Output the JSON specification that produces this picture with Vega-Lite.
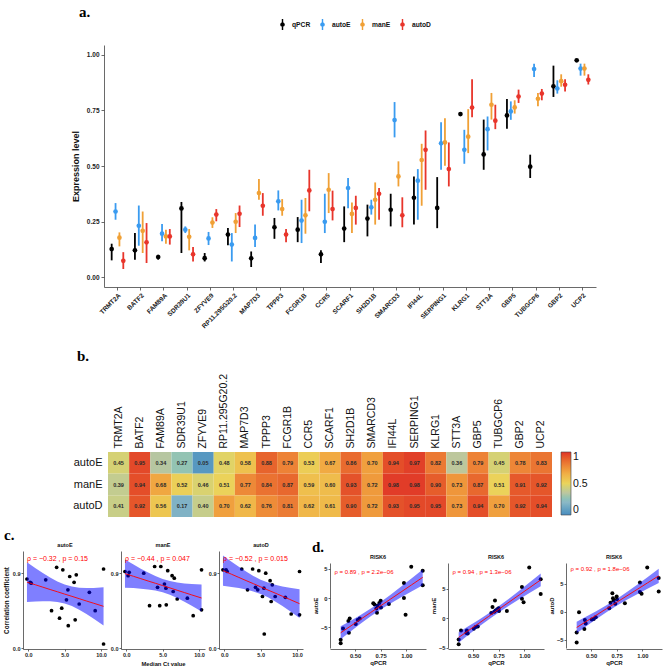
{
  "$schema": "https://vega.github.io/schema/vega-lite/v6.json",
  "padding": {"left": 3, "top": 5, "right": 2, "bottom": 2},
  "config": {
    "view": {"stroke": null},
    "font": "Liberation Sans",
    "axis": {"grid": false, "domainColor": "#444", "tickColor": "#444", "domainWidth": 0.8, "tickWidth": 0.8, "labelColor": "#222", "labelFontWeight": "bold", "titleFontWeight": "bold", "titleColor": "#111"},
    "title": {"font": "Liberation Sans", "fontWeight": "bold", "color": "#111"},
    "legend": {"padding": 0}
  },
  "datasets": {
    "expr": [
      {"gene":"TRMT2A","method":"qPCR","value":0.126,"lo":0.075,"hi":0.150},
      {"gene":"TRMT2A","method":"autoE","value":0.295,"lo":0.258,"hi":0.333},
      {"gene":"TRMT2A","method":"manE","value":0.177,"lo":0.138,"hi":0.201},
      {"gene":"TRMT2A","method":"autoD","value":0.073,"lo":0.036,"hi":0.112},
      {"gene":"BATF2","method":"qPCR","value":0.120,"lo":0.078,"hi":0.198},
      {"gene":"BATF2","method":"autoE","value":0.231,"lo":0.141,"hi":0.322},
      {"gene":"BATF2","method":"manE","value":0.208,"lo":0.108,"hi":0.295},
      {"gene":"BATF2","method":"autoD","value":0.156,"lo":0.063,"hi":0.243},
      {"gene":"FAM89A","method":"qPCR","value":0.090,"lo":0.078,"hi":0.100},
      {"gene":"FAM89A","method":"autoE","value":0.195,"lo":0.161,"hi":0.239},
      {"gene":"FAM89A","method":"manE","value":0.183,"lo":0.150,"hi":0.213},
      {"gene":"FAM89A","method":"autoD","value":0.183,"lo":0.146,"hi":0.216},
      {"gene":"SDR39U1","method":"qPCR","value":0.309,"lo":0.108,"hi":0.338},
      {"gene":"SDR39U1","method":"autoE","value":0.213,"lo":0.198,"hi":0.228},
      {"gene":"SDR39U1","method":"manE","value":0.181,"lo":0.120,"hi":0.216},
      {"gene":"SDR39U1","method":"autoD","value":0.102,"lo":0.070,"hi":0.135},
      {"gene":"ZFYVE9","method":"qPCR","value":0.085,"lo":0.070,"hi":0.108},
      {"gene":"ZFYVE9","method":"autoE","value":0.174,"lo":0.144,"hi":0.203},
      {"gene":"ZFYVE9","method":"manE","value":0.245,"lo":0.221,"hi":0.269},
      {"gene":"ZFYVE9","method":"autoD","value":0.281,"lo":0.251,"hi":0.306},
      {"gene":"RP11.295G20.2","method":"qPCR","value":0.191,"lo":0.143,"hi":0.221},
      {"gene":"RP11.295G20.2","method":"autoE","value":0.146,"lo":0.070,"hi":0.198},
      {"gene":"RP11.295G20.2","method":"manE","value":0.249,"lo":0.198,"hi":0.288},
      {"gene":"RP11.295G20.2","method":"autoD","value":0.285,"lo":0.225,"hi":0.322},
      {"gene":"MAP7D3","method":"qPCR","value":0.084,"lo":0.045,"hi":0.115},
      {"gene":"MAP7D3","method":"autoE","value":0.176,"lo":0.135,"hi":0.236},
      {"gene":"MAP7D3","method":"manE","value":0.378,"lo":0.348,"hi":0.441},
      {"gene":"MAP7D3","method":"autoD","value":0.321,"lo":0.276,"hi":0.378},
      {"gene":"TPPP3","method":"qPCR","value":0.224,"lo":0.172,"hi":0.266},
      {"gene":"TPPP3","method":"autoE","value":0.341,"lo":0.300,"hi":0.390},
      {"gene":"TPPP3","method":"manE","value":0.306,"lo":0.276,"hi":0.351},
      {"gene":"TPPP3","method":"autoD","value":0.191,"lo":0.157,"hi":0.216},
      {"gene":"FCGR1B","method":"qPCR","value":0.213,"lo":0.157,"hi":0.270},
      {"gene":"FCGR1B","method":"autoE","value":0.254,"lo":0.153,"hi":0.348},
      {"gene":"FCGR1B","method":"manE","value":0.278,"lo":0.195,"hi":0.356},
      {"gene":"FCGR1B","method":"autoD","value":0.390,"lo":0.296,"hi":0.483},
      {"gene":"CCR5","method":"qPCR","value":0.102,"lo":0.063,"hi":0.120},
      {"gene":"CCR5","method":"autoE","value":0.249,"lo":0.198,"hi":0.375},
      {"gene":"CCR5","method":"manE","value":0.393,"lo":0.288,"hi":0.468},
      {"gene":"CCR5","method":"autoD","value":0.306,"lo":0.255,"hi":0.389},
      {"gene":"SCARF1","method":"qPCR","value":0.218,"lo":0.157,"hi":0.318},
      {"gene":"SCARF1","method":"autoE","value":0.401,"lo":0.310,"hi":0.446},
      {"gene":"SCARF1","method":"manE","value":0.284,"lo":0.198,"hi":0.336},
      {"gene":"SCARF1","method":"autoD","value":0.311,"lo":0.236,"hi":0.366},
      {"gene":"SH2D1B","method":"qPCR","value":0.263,"lo":0.183,"hi":0.326},
      {"gene":"SH2D1B","method":"autoE","value":0.314,"lo":0.281,"hi":0.348},
      {"gene":"SH2D1B","method":"manE","value":0.348,"lo":0.236,"hi":0.426},
      {"gene":"SH2D1B","method":"autoD","value":0.375,"lo":0.258,"hi":0.401},
      {"gene":"SMARCD3","method":"qPCR","value":0.303,"lo":0.228,"hi":0.375},
      {"gene":"SMARCD3","method":"autoE","value":0.707,"lo":0.629,"hi":0.788},
      {"gene":"SMARCD3","method":"manE","value":0.453,"lo":0.408,"hi":0.521},
      {"gene":"SMARCD3","method":"autoD","value":0.278,"lo":0.224,"hi":0.359},
      {"gene":"IFI44L","method":"qPCR","value":0.357,"lo":0.236,"hi":0.453},
      {"gene":"IFI44L","method":"autoE","value":0.434,"lo":0.258,"hi":0.486},
      {"gene":"IFI44L","method":"manE","value":0.527,"lo":0.321,"hi":0.600},
      {"gene":"IFI44L","method":"autoD","value":0.573,"lo":0.393,"hi":0.660},
      {"gene":"SERPING1","method":"qPCR","value":0.311,"lo":0.220,"hi":0.450},
      {"gene":"SERPING1","method":"autoE","value":0.602,"lo":0.483,"hi":0.697},
      {"gene":"SERPING1","method":"manE","value":0.606,"lo":0.501,"hi":0.715},
      {"gene":"SERPING1","method":"autoD","value":0.486,"lo":0.408,"hi":0.606},
      {"gene":"KLRG1","method":"qPCR","value":0.734,"lo":0.729,"hi":0.739},
      {"gene":"KLRG1","method":"autoE","value":0.573,"lo":0.510,"hi":0.663},
      {"gene":"KLRG1","method":"manE","value":0.632,"lo":0.558,"hi":0.756},
      {"gene":"KLRG1","method":"autoD","value":0.763,"lo":0.720,"hi":0.891},
      {"gene":"STT3A","method":"qPCR","value":0.552,"lo":0.483,"hi":0.709},
      {"gene":"STT3A","method":"autoE","value":0.666,"lo":0.570,"hi":0.723},
      {"gene":"STT3A","method":"manE","value":0.776,"lo":0.709,"hi":0.829},
      {"gene":"STT3A","method":"autoD","value":0.704,"lo":0.666,"hi":0.776},
      {"gene":"GBP5","method":"qPCR","value":0.728,"lo":0.668,"hi":0.802},
      {"gene":"GBP5","method":"autoE","value":0.746,"lo":0.708,"hi":0.791},
      {"gene":"GBP5","method":"manE","value":0.764,"lo":0.736,"hi":0.796},
      {"gene":"GBP5","method":"autoD","value":0.813,"lo":0.784,"hi":0.844},
      {"gene":"TUBGCP6","method":"qPCR","value":0.497,"lo":0.446,"hi":0.551},
      {"gene":"TUBGCP6","method":"autoE","value":0.937,"lo":0.901,"hi":0.961},
      {"gene":"TUBGCP6","method":"manE","value":0.803,"lo":0.769,"hi":0.829},
      {"gene":"TUBGCP6","method":"autoD","value":0.826,"lo":0.796,"hi":0.847},
      {"gene":"GBP2","method":"qPCR","value":0.859,"lo":0.811,"hi":0.952},
      {"gene":"GBP2","method":"autoE","value":0.849,"lo":0.826,"hi":0.886},
      {"gene":"GBP2","method":"manE","value":0.882,"lo":0.857,"hi":0.913},
      {"gene":"GBP2","method":"autoD","value":0.866,"lo":0.836,"hi":0.891},
      {"gene":"UCP2","method":"qPCR","value":0.976,"lo":0.971,"hi":0.981},
      {"gene":"UCP2","method":"autoE","value":0.939,"lo":0.907,"hi":0.961},
      {"gene":"UCP2","method":"manE","value":0.939,"lo":0.907,"hi":0.961},
      {"gene":"UCP2","method":"autoD","value":0.888,"lo":0.867,"hi":0.913}
    ],
    "cor": [
      {"gene":"TRMT2A","ct":9.2,"method":"autoE","rho":0.45},{"gene":"TRMT2A","ct":9.2,"method":"manE","rho":0.39},{"gene":"TRMT2A","ct":9.2,"method":"autoD","rho":0.41},
      {"gene":"BATF2","ct":10.35,"method":"autoE","rho":0.95},{"gene":"BATF2","ct":10.35,"method":"manE","rho":0.94},{"gene":"BATF2","ct":10.35,"method":"autoD","rho":0.92},
      {"gene":"FAM89A","ct":6.45,"method":"autoE","rho":0.34},{"gene":"FAM89A","ct":6.45,"method":"manE","rho":0.68},{"gene":"FAM89A","ct":6.45,"method":"autoD","rho":0.56},
      {"gene":"SDR39U1","ct":5.5,"method":"autoE","rho":0.27},{"gene":"SDR39U1","ct":5.5,"method":"manE","rho":0.52},{"gene":"SDR39U1","ct":5.5,"method":"autoD","rho":0.17},
      {"gene":"ZFYVE9","ct":10.35,"method":"autoE","rho":0.05},{"gene":"ZFYVE9","ct":10.35,"method":"manE","rho":0.46},{"gene":"ZFYVE9","ct":10.35,"method":"autoD","rho":0.40},
      {"gene":"RP11.295G20.2","ct":4.6,"method":"autoE","rho":0.48},{"gene":"RP11.295G20.2","ct":4.6,"method":"manE","rho":0.51},{"gene":"RP11.295G20.2","ct":4.6,"method":"autoD","rho":0.70},
      {"gene":"MAP7D3","ct":5.25,"method":"autoE","rho":0.58},{"gene":"MAP7D3","ct":5.25,"method":"manE","rho":0.77},{"gene":"MAP7D3","ct":5.25,"method":"autoD","rho":0.62},
      {"gene":"TPPP3","ct":6.6,"method":"autoE","rho":0.88},{"gene":"TPPP3","ct":6.6,"method":"manE","rho":0.84},{"gene":"TPPP3","ct":6.6,"method":"autoD","rho":0.76},
      {"gene":"FCGR1B","ct":6.3,"method":"autoE","rho":0.79},{"gene":"FCGR1B","ct":6.3,"method":"manE","rho":0.87},{"gene":"FCGR1B","ct":6.3,"method":"autoD","rho":0.81},
      {"gene":"CCR5","ct":7.0,"method":"autoE","rho":0.53},{"gene":"CCR5","ct":7.0,"method":"manE","rho":0.59},{"gene":"CCR5","ct":7.0,"method":"autoD","rho":0.62},
      {"gene":"SCARF1","ct":8.4,"method":"autoE","rho":0.67},{"gene":"SCARF1","ct":8.4,"method":"manE","rho":0.60},{"gene":"SCARF1","ct":8.4,"method":"autoD","rho":0.61},
      {"gene":"SH2D1B","ct":5.7,"method":"autoE","rho":0.86},{"gene":"SH2D1B","ct":5.7,"method":"manE","rho":0.93},{"gene":"SH2D1B","ct":5.7,"method":"autoD","rho":0.90},
      {"gene":"SMARCD3","ct":5.45,"method":"autoE","rho":0.70},{"gene":"SMARCD3","ct":5.45,"method":"manE","rho":0.72},{"gene":"SMARCD3","ct":5.45,"method":"autoD","rho":0.72},
      {"gene":"IFI44L","ct":4.75,"method":"autoE","rho":0.94},{"gene":"IFI44L","ct":4.75,"method":"manE","rho":0.98},{"gene":"IFI44L","ct":4.75,"method":"autoD","rho":0.93},
      {"gene":"SERPING1","ct":3.9,"method":"autoE","rho":0.97},{"gene":"SERPING1","ct":3.9,"method":"manE","rho":0.98},{"gene":"SERPING1","ct":3.9,"method":"autoD","rho":0.95},
      {"gene":"KLRG1","ct":2.4,"method":"autoE","rho":0.82},{"gene":"KLRG1","ct":2.4,"method":"manE","rho":0.90},{"gene":"KLRG1","ct":2.4,"method":"autoD","rho":0.95},
      {"gene":"STT3A","ct":4.3,"method":"autoE","rho":0.36},{"gene":"STT3A","ct":4.3,"method":"manE","rho":0.73},{"gene":"STT3A","ct":4.3,"method":"autoD","rho":0.73},
      {"gene":"GBP5","ct":0.25,"method":"autoE","rho":0.79},{"gene":"GBP5","ct":0.25,"method":"manE","rho":0.87},{"gene":"GBP5","ct":0.25,"method":"autoD","rho":0.94},
      {"gene":"TUBGCP6","ct":3.2,"method":"autoE","rho":0.45},{"gene":"TUBGCP6","ct":3.2,"method":"manE","rho":0.51},{"gene":"TUBGCP6","ct":3.2,"method":"autoD","rho":0.70},
      {"gene":"GBP2","ct":0.4,"method":"autoE","rho":0.78},{"gene":"GBP2","ct":0.4,"method":"manE","rho":0.91},{"gene":"GBP2","ct":0.4,"method":"autoD","rho":0.92},
      {"gene":"UCP2","ct":-0.18,"method":"autoE","rho":0.83},{"gene":"UCP2","ct":-0.18,"method":"manE","rho":0.92},{"gene":"UCP2","ct":-0.18,"method":"autoD","rho":0.94}
    ],
    "cfit": [
      {"method":"autoE","ct":-0.18,"fit":0.792,"lo":0.553,"hi":1.031},
      {"method":"autoE","ct":1,"fit":0.760,"lo":0.560,"hi":0.960},
      {"method":"autoE","ct":2,"fit":0.732,"lo":0.563,"hi":0.901},
      {"method":"autoE","ct":3,"fit":0.704,"lo":0.562,"hi":0.847},
      {"method":"autoE","ct":4,"fit":0.677,"lo":0.554,"hi":0.800},
      {"method":"autoE","ct":5,"fit":0.649,"lo":0.536,"hi":0.763},
      {"method":"autoE","ct":6,"fit":0.622,"lo":0.505,"hi":0.739},
      {"method":"autoE","ct":7,"fit":0.594,"lo":0.462,"hi":0.726},
      {"method":"autoE","ct":8,"fit":0.566,"lo":0.411,"hi":0.722},
      {"method":"autoE","ct":9,"fit":0.539,"lo":0.354,"hi":0.723},
      {"method":"autoE","ct":10.35,"fit":0.502,"lo":0.273,"hi":0.730},
      {"method":"manE","ct":-0.18,"fit":0.895,"lo":0.726,"hi":1.064},
      {"method":"manE","ct":1,"fit":0.862,"lo":0.721,"hi":1.004},
      {"method":"manE","ct":2,"fit":0.834,"lo":0.714,"hi":0.954},
      {"method":"manE","ct":3,"fit":0.806,"lo":0.705,"hi":0.908},
      {"method":"manE","ct":4,"fit":0.779,"lo":0.691,"hi":0.866},
      {"method":"manE","ct":5,"fit":0.751,"lo":0.670,"hi":0.831},
      {"method":"manE","ct":6,"fit":0.723,"lo":0.640,"hi":0.806},
      {"method":"manE","ct":7,"fit":0.695,"lo":0.601,"hi":0.788},
      {"method":"manE","ct":8,"fit":0.667,"lo":0.557,"hi":0.777},
      {"method":"manE","ct":9,"fit":0.639,"lo":0.509,"hi":0.770},
      {"method":"manE","ct":10.35,"fit":0.602,"lo":0.440,"hi":0.763},
      {"method":"autoD","ct":-0.18,"fit":0.931,"lo":0.750,"hi":1.113},
      {"method":"autoD","ct":1,"fit":0.887,"lo":0.735,"hi":1.038},
      {"method":"autoD","ct":2,"fit":0.849,"lo":0.721,"hi":0.978},
      {"method":"autoD","ct":3,"fit":0.811,"lo":0.703,"hi":0.920},
      {"method":"autoD","ct":4,"fit":0.774,"lo":0.680,"hi":0.867},
      {"method":"autoD","ct":5,"fit":0.736,"lo":0.650,"hi":0.822},
      {"method":"autoD","ct":6,"fit":0.698,"lo":0.610,"hi":0.787},
      {"method":"autoD","ct":7,"fit":0.661,"lo":0.560,"hi":0.761},
      {"method":"autoD","ct":8,"fit":0.623,"lo":0.505,"hi":0.741},
      {"method":"autoD","ct":9,"fit":0.585,"lo":0.445,"hi":0.725},
      {"method":"autoD","ct":10.35,"fit":0.534,"lo":0.361,"hi":0.707}
    ],
    "risk": [
      {"qpcr":0.36,"autoE":-7.1,"manE":-3.6,"autoD":-5.5},
      {"qpcr":0.36,"autoE":-7.7,"manE":-4.4,"autoD":-3.75},
      {"qpcr":0.383,"autoE":-5.2,"manE":-2.1,"autoD":-0.1},
      {"qpcr":0.435,"autoE":-3.9,"manE":-2.5,"autoD":-3.1},
      {"qpcr":0.44,"autoE":-5.9,"manE":-2.1,"autoD":-1.5},
      {"qpcr":0.448,"autoE":-3.5,"manE":-2.6,"autoD":-2.1},
      {"qpcr":0.507,"autoE":-4.4,"manE":-1.8,"autoD":-1.4},
      {"qpcr":0.526,"autoE":-3.75,"manE":-1.5,"autoD":-1.3},
      {"qpcr":0.546,"autoE":-3.5,"manE":-1.4,"autoD":-1.0},
      {"qpcr":0.678,"autoE":-0.9,"manE":0.9,"autoD":0.6},
      {"qpcr":0.69,"autoE":-1.1,"manE":1.9,"autoD":1.6},
      {"qpcr":0.708,"autoE":-1.8,"manE":1.1,"autoD":3.3},
      {"qpcr":0.714,"autoE":-2.5,"manE":3.0,"autoD":2.4},
      {"qpcr":0.72,"autoE":-1.3,"manE":1.3,"autoD":2.0},
      {"qpcr":0.737,"autoE":-0.85,"manE":1.5,"autoD":1.4},
      {"qpcr":0.75,"autoE":-0.45,"manE":1.7,"autoD":2.7},
      {"qpcr":0.753,"autoE":-1.6,"manE":1.2,"autoD":2.2},
      {"qpcr":0.83,"autoE":-1.0,"manE":1.2,"autoD":1.5},
      {"qpcr":0.977,"autoE":2.55,"manE":5.3,"autoD":5.2},
      {"qpcr":0.977,"autoE":0.0,"manE":3.3,"autoD":3.5},
      {"qpcr":0.993,"autoE":-2.85,"manE":2.7,"autoD":3.2},
      {"qpcr":1.048,"autoE":5.3,"manE":8.6,"autoD":7.9},
      {"qpcr":1.16,"autoE":4.65,"manE":6.6,"autoD":6.0},
      {"qpcr":1.16,"autoE":2.15,"manE":4.1,"autoD":3.6}
    ],
    "rfit": [
      {"method":"autoE","qpcr":0.36,"fit":-5.912,"lo":-7.006,"hi":-4.818},
      {"method":"autoE","qpcr":0.45,"fit":-4.852,"lo":-5.766,"hi":-3.938},
      {"method":"autoE","qpcr":0.55,"fit":-3.674,"lo":-4.423,"hi":-2.925},
      {"method":"autoE","qpcr":0.65,"fit":-2.496,"lo":-3.145,"hi":-1.847},
      {"method":"autoE","qpcr":0.75,"fit":-1.318,"lo":-1.963,"hi":-0.673},
      {"method":"autoE","qpcr":0.85,"fit":-0.140,"lo":-0.878,"hi":0.598},
      {"method":"autoE","qpcr":0.95,"fit":1.038,"lo":0.139,"hi":1.937},
      {"method":"autoE","qpcr":1.05,"fit":2.216,"lo":1.117,"hi":3.315},
      {"method":"autoE","qpcr":1.16,"fit":3.512,"lo":2.170,"hi":4.854},
      {"method":"manE","qpcr":0.36,"fit":-3.260,"lo":-4.149,"hi":-2.371},
      {"method":"manE","qpcr":0.45,"fit":-2.163,"lo":-2.906,"hi":-1.420},
      {"method":"manE","qpcr":0.55,"fit":-0.944,"lo":-1.553,"hi":-0.335},
      {"method":"manE","qpcr":0.65,"fit":0.275,"lo":-0.253,"hi":0.803},
      {"method":"manE","qpcr":0.75,"fit":1.494,"lo":0.970,"hi":2.018},
      {"method":"manE","qpcr":0.85,"fit":2.713,"lo":2.113,"hi":3.313},
      {"method":"manE","qpcr":0.95,"fit":3.932,"lo":3.201,"hi":4.663},
      {"method":"manE","qpcr":1.05,"fit":5.151,"lo":4.258,"hi":6.044},
      {"method":"manE","qpcr":1.16,"fit":6.492,"lo":5.401,"hi":7.583},
      {"method":"autoD","qpcr":0.36,"fit":-2.830,"lo":-3.863,"hi":-1.797},
      {"method":"autoD","qpcr":0.45,"fit":-1.791,"lo":-2.654,"hi":-0.928},
      {"method":"autoD","qpcr":0.55,"fit":-0.637,"lo":-1.344,"hi":0.070},
      {"method":"autoD","qpcr":0.65,"fit":0.517,"lo":-0.096,"hi":1.130},
      {"method":"autoD","qpcr":0.75,"fit":1.671,"lo":1.062,"hi":2.280},
      {"method":"autoD","qpcr":0.85,"fit":2.825,"lo":2.128,"hi":3.522},
      {"method":"autoD","qpcr":0.95,"fit":3.979,"lo":3.130,"hi":4.828},
      {"method":"autoD","qpcr":1.05,"fit":5.133,"lo":4.096,"hi":6.170},
      {"method":"autoD","qpcr":1.16,"fit":6.402,"lo":5.135,"hi":7.669}
    ]
  },
  "spacing": 19,
  "vconcat": [
    {
      "hconcat": [
        {"width": 67, "height": 10, "data": {"values": []}, "mark": "point"},
        {
          "width": 492, "height": 242,
          "data": {"name": "expr"},
          "title": {"text": "a.", "anchor": "start", "frame": "group", "dx": -25, "offset": 25, "font": "Liberation Serif", "fontSize": 15, "fontWeight": "bold", "color": "#000"},
          "encoding": {
            "x": {"field": "gene", "type": "nominal",
              "sort": ["TRMT2A","BATF2","FAM89A","SDR39U1","ZFYVE9","RP11.295G20.2","MAP7D3","TPPP3","FCGR1B","CCR5","SCARF1","SH2D1B","SMARCD3","IFI44L","SERPING1","KLRG1","STT3A","GBP5","TUBGCP6","GBP2","UCP2"],
              "scale": {"paddingInner": 0, "paddingOuter": 0.08},
              "axis": {"title": null, "labelAngle": -45, "labelFontSize": 6.5, "labelPadding": 2, "tickSize": 3}},
            "xOffset": {"field": "method", "type": "nominal", "sort": ["qPCR","autoE","manE","autoD"],
              "scale": {"paddingInner": 0, "paddingOuter": 1.875}}
          },
          "layer": [
            {
              "mark": {"type": "rule", "strokeWidth": 1.8},
              "encoding": {
                "y": {"field": "lo", "type": "quantitative", "title": "Expression level",
                  "scale": {"domain": [-0.045, 1.045], "nice": false, "zero": false},
                  "axis": {"values": [0, 0.25, 0.5, 0.75, 1], "format": ".2f", "labelFontSize": 6.5, "titleFontSize": 9, "tickSize": 3, "titlePadding": 6}},
                "y2": {"field": "hi"},
                "stroke": {"field": "method", "type": "nominal", "legend": null,
                  "scale": {"domain": ["qPCR","autoE","manE","autoD"], "range": ["#000000","#3A9BF0","#F0A035","#E8352B"]}}
              }
            },
            {
              "mark": {"type": "point", "filled": true, "size": 22, "opacity": 1},
              "encoding": {
                "y": {"field": "value", "type": "quantitative", "title": "Expression level"},
                "color": {"field": "method", "type": "nominal",
                  "scale": {"domain": ["qPCR","autoE","manE","autoD"], "range": ["#000000","#3A9BF0","#F0A035","#E8352B"]},
                  "legend": {"orient": "none", "legendX": 255, "legendY": -26, "direction": "horizontal", "title": null,
                    "symbolType": "M-0.13,-1H0.13V1H-0.13Z M0.42,0A0.42,0.42,0,1,1,-0.42,0A0.42,0.42,0,1,1,0.42,0Z",
                    "symbolSize": 120, "symbolStrokeWidth": 0, "labelFontSize": 6.7, "labelFontWeight": "bold", "labelColor": "#111", "labelOffset": 4, "columnPadding": 6}}
              }
            }
          ]
        }
      ],
      "spacing": 15,
      "bounds": "flush"
    },
    {
      "spacing": 11,
      "vconcat": [
        {
          "hconcat": [
            {"width": 71, "height": 10, "data": {"values": []}, "mark": "point"},
            {
              "width": 444, "height": 65,
              "data": {"name": "cor"},
              "title": {"text": "b.", "anchor": "start", "frame": "group", "dx": -31, "offset": 9, "font": "Liberation Serif", "fontSize": 15, "fontWeight": "bold", "color": "#000"},
              "encoding": {
                "x": {"field": "gene", "type": "nominal",
                  "sort": ["TRMT2A","BATF2","FAM89A","SDR39U1","ZFYVE9","RP11.295G20.2","MAP7D3","TPPP3","FCGR1B","CCR5","SCARF1","SH2D1B","SMARCD3","IFI44L","SERPING1","KLRG1","STT3A","GBP5","TUBGCP6","GBP2","UCP2"],
                  "scale": {"paddingInner": 0, "paddingOuter": 0},
                  "axis": {"orient": "top", "title": null, "labelAngle": -90, "labelFontSize": 10.5, "labelFontWeight": "normal", "labelColor": "#111", "ticks": false, "domain": false, "labelPadding": 4}},
                "y": {"field": "method", "type": "nominal", "sort": ["autoE","manE","autoD"],
                  "scale": {"paddingInner": 0, "paddingOuter": 0},
                  "axis": {"title": null, "ticks": false, "domain": false, "labelFontSize": 11, "labelFontWeight": "normal", "labelColor": "#111", "labelPadding": 6}}
              },
              "layer": [
                {
                  "mark": {"type": "rect"},
                  "encoding": {
                    "color": {"field": "rho", "type": "quantitative",
                      "scale": {"domain": [0, 0.2, 0.35, 0.5, 0.65, 0.8, 1], "range": ["#4A8CC0", "#8BB8C6", "#BCC6A0", "#EAD45C", "#F1B046", "#EC7F36", "#DF3128"]},
                      "legend": {"orient": "none", "legendX": 539, "legendY": 0, "direction": "vertical", "title": null, "values": [0, 0.5, 1], "format": "~g", "gradientLength": 63, "gradientThickness": 10, "labelFontSize": 10.5, "labelColor": "#111", "gradientStrokeColor": "#444", "gradientStrokeWidth": 0.6}}
                  }
                },
                {
                  "mark": {"type": "text", "fontSize": 5.5, "fontWeight": "bold", "color": "#2a2a2a"},
                  "encoding": {"text": {"field": "rho", "type": "quantitative", "format": ".2f"}}
                }
              ]
            }
          ],
          "spacing": 15,
          "bounds": "flush"
        },
        {
          "spacing": 0,
          "bounds": "flush",
          "hconcat": [
            {"width": 1, "height": 98, "data": {"values": []}, "mark": "point",
              "title": {"text": "c.", "anchor": "start", "frame": "group", "dx": -18, "offset": 8, "font": "Liberation Serif", "fontSize": 15, "fontWeight": "bold", "color": "#000"}},
            {
              "width": 84, "height": 98,
              "title": {"text": "autoE", "fontSize": 5.5, "offset": 3},
              "layer": [
                {
                  "data": {"name": "cor"},
                  "transform": [{"filter": "datum.method === 'autoE'"}],
                  "mark": {"type": "circle", "size": 14, "color": "#000", "opacity": 1},
                  "encoding": {
                    "x": {"field": "ct", "type": "quantitative", "title": null, "scale": {"domain": [-0.725, 10.825], "nice": false, "zero": false}, "axis": {"values": [0, 2.5, 5, 7.5, 10], "format": ".1f", "labelFontSize": 5.5, "tickSize": 2, "labelPadding": 1}},
                    "y": {"field": "rho", "type": "quantitative", "title": "Correlation coefficient", "scale": {"domain": [-0.01, 1.166], "nice": false, "zero": false}, "axis": {"values": [0, 0.3, 0.6, 0.9], "format": ".1f", "labelFontSize": 5.5, "tickSize": 2, "labelPadding": 1, "titleFontSize": 6.3, "titlePadding": 3}}
                  }
                },
                {
                  "data": {"name": "cfit"},
                  "transform": [{"filter": "datum.method === 'autoE'"}],
                  "mark": {"type": "area", "color": "#0000FF", "opacity": 0.5},
                  "encoding": {"x": {"field": "ct", "type": "quantitative", "title": null}, "y": {"field": "lo", "type": "quantitative", "title": "Correlation coefficient"}, "y2": {"field": "hi"}}
                },
                {
                  "data": {"name": "cfit"},
                  "transform": [{"filter": "datum.method === 'autoE'"}],
                  "mark": {"type": "line", "color": "#FF0000", "strokeWidth": 0.9},
                  "encoding": {"x": {"field": "ct", "type": "quantitative", "title": null}, "y": {"field": "fit", "type": "quantitative", "title": "Correlation coefficient"}}
                },
                {
                  "data": {"values": [{"label": "ρ = −0.32 , p = 0.15"}]},
                  "mark": {"type": "text", "align": "left", "baseline": "middle", "color": "#FF0000", "fontSize": 7},
                  "encoding": {"x": {"datum": -0.18}, "y": {"datum": 1.07}, "text": {"field": "label"}}
                }
              ]
            },
            {"width": 14, "height": 98, "data": {"values": []}, "mark": "point"},
            {
              "width": 84, "height": 98,
              "title": {"text": "manE", "fontSize": 5.5, "offset": 3},
              "layer": [
                {
                  "data": {"name": "cor"},
                  "transform": [{"filter": "datum.method === 'manE'"}],
                  "mark": {"type": "circle", "size": 14, "color": "#000", "opacity": 1},
                  "encoding": {
                    "x": {"field": "ct", "type": "quantitative", "title": "Median Ct value", "scale": {"domain": [-0.725, 10.825], "nice": false, "zero": false}, "axis": {"values": [0, 2.5, 5, 7.5, 10], "format": ".1f", "labelFontSize": 5.5, "tickSize": 2, "labelPadding": 1, "titleFontSize": 5.8, "titlePadding": 3}},
                    "y": {"field": "rho", "type": "quantitative", "title": null, "scale": {"domain": [-0.01, 1.166], "nice": false, "zero": false}, "axis": {"values": [0, 0.3, 0.6, 0.9], "format": ".1f", "labelFontSize": 5.5, "tickSize": 2, "labelPadding": 1}}
                  }
                },
                {
                  "data": {"name": "cfit"},
                  "transform": [{"filter": "datum.method === 'manE'"}],
                  "mark": {"type": "area", "color": "#0000FF", "opacity": 0.5},
                  "encoding": {"x": {"field": "ct", "type": "quantitative", "title": "Median Ct value"}, "y": {"field": "lo", "type": "quantitative", "title": null}, "y2": {"field": "hi"}}
                },
                {
                  "data": {"name": "cfit"},
                  "transform": [{"filter": "datum.method === 'manE'"}],
                  "mark": {"type": "line", "color": "#FF0000", "strokeWidth": 0.9},
                  "encoding": {"x": {"field": "ct", "type": "quantitative", "title": "Median Ct value"}, "y": {"field": "fit", "type": "quantitative", "title": null}}
                },
                {
                  "data": {"values": [{"label": "ρ = −0.44 , p = 0.047"}]},
                  "mark": {"type": "text", "align": "left", "baseline": "middle", "color": "#FF0000", "fontSize": 7},
                  "encoding": {"x": {"datum": -0.18}, "y": {"datum": 1.07}, "text": {"field": "label"}}
                }
              ]
            },
            {"width": 14, "height": 98, "data": {"values": []}, "mark": "point"},
            {
              "width": 84, "height": 98,
              "title": {"text": "autoD", "fontSize": 5.5, "offset": 3},
              "layer": [
                {
                  "data": {"name": "cor"},
                  "transform": [{"filter": "datum.method === 'autoD'"}],
                  "mark": {"type": "circle", "size": 14, "color": "#000", "opacity": 1},
                  "encoding": {
                    "x": {"field": "ct", "type": "quantitative", "title": null, "scale": {"domain": [-0.725, 10.825], "nice": false, "zero": false}, "axis": {"values": [0, 2.5, 5, 7.5, 10], "format": ".1f", "labelFontSize": 5.5, "tickSize": 2, "labelPadding": 1}},
                    "y": {"field": "rho", "type": "quantitative", "title": null, "scale": {"domain": [-0.01, 1.166], "nice": false, "zero": false}, "axis": {"values": [0, 0.3, 0.6, 0.9], "format": ".1f", "labelFontSize": 5.5, "tickSize": 2, "labelPadding": 1}}
                  }
                },
                {
                  "data": {"name": "cfit"},
                  "transform": [{"filter": "datum.method === 'autoD'"}],
                  "mark": {"type": "area", "color": "#0000FF", "opacity": 0.5},
                  "encoding": {"x": {"field": "ct", "type": "quantitative", "title": null}, "y": {"field": "lo", "type": "quantitative", "title": null}, "y2": {"field": "hi"}}
                },
                {
                  "data": {"name": "cfit"},
                  "transform": [{"filter": "datum.method === 'autoD'"}],
                  "mark": {"type": "line", "color": "#FF0000", "strokeWidth": 0.9},
                  "encoding": {"x": {"field": "ct", "type": "quantitative", "title": null}, "y": {"field": "fit", "type": "quantitative", "title": null}}
                },
                {
                  "data": {"values": [{"label": "ρ = −0.52 , p = 0.015"}]},
                  "mark": {"type": "text", "align": "left", "baseline": "middle", "color": "#FF0000", "fontSize": 7},
                  "encoding": {"x": {"datum": -0.18}, "y": {"datum": 1.07}, "text": {"field": "label"}}
                }
              ]
            },
            {"width": 27, "height": 98, "data": {"values": []}, "mark": "point",
              "title": {"text": "d.", "anchor": "start", "frame": "group", "dx": 9, "offset": -4, "font": "Liberation Serif", "fontSize": 15, "fontWeight": "bold", "color": "#000"}},
            {
              "width": 96, "height": 98,
              "title": {"text": "RISK6", "fontSize": 5.5, "offset": -9},
              "layer": [
                {
                  "data": {"name": "risk"},
                  "mark": {"type": "circle", "size": 16, "color": "#000", "opacity": 1},
                  "encoding": {
                    "x": {"field": "qpcr", "type": "quantitative", "title": "qPCR", "scale": {"domain": [0.256, 1.192], "nice": false, "zero": false}, "axis": {"values": [0.5, 0.75, 1], "format": ".2f", "labelFontSize": 5.8, "tickSize": 2, "labelPadding": 1, "titleFontSize": 6, "titlePadding": 2}},
                    "y": {"field": "autoE", "type": "quantitative", "title": "autoE", "scale": {"domain": [-8.5, 5.95], "range": [97, 12], "nice": false, "zero": false}, "axis": {"values": [-5, 0, 5], "format": "d", "labelFontSize": 5.8, "tickSize": 2, "labelPadding": 1, "titleFontSize": 6, "titlePadding": 2}}
                  }
                },
                {
                  "data": {"name": "rfit"},
                  "transform": [{"filter": "datum.method === 'autoE'"}],
                  "mark": {"type": "area", "color": "#0000FF", "opacity": 0.5},
                  "encoding": {"x": {"field": "qpcr", "type": "quantitative", "title": "qPCR"}, "y": {"field": "lo", "type": "quantitative", "title": "autoE"}, "y2": {"field": "hi"}}
                },
                {
                  "data": {"name": "rfit"},
                  "transform": [{"filter": "datum.method === 'autoE'"}],
                  "mark": {"type": "line", "color": "#FF0000", "strokeWidth": 0.9},
                  "encoding": {"x": {"field": "qpcr", "type": "quantitative", "title": "qPCR"}, "y": {"field": "fit", "type": "quantitative", "title": "autoE"}}
                },
                {
                  "data": {"values": [{"label": "ρ = 0.89 , p = 2.2e−06"}]},
                  "mark": {"type": "text", "align": "left", "baseline": "middle", "color": "#FF0000", "fontSize": 6},
                  "encoding": {"x": {"datum": 0.30}, "y": {"datum": 4.47}, "text": {"field": "label"}}
                }
              ]
            },
            {"width": 22, "height": 98, "data": {"values": []}, "mark": "point"},
            {
              "width": 96, "height": 98,
              "title": {"text": "RISK6", "fontSize": 5.5, "offset": -9},
              "layer": [
                {
                  "data": {"name": "risk"},
                  "mark": {"type": "circle", "size": 16, "color": "#000", "opacity": 1},
                  "encoding": {
                    "x": {"field": "qpcr", "type": "quantitative", "title": "qPCR", "scale": {"domain": [0.256, 1.192], "nice": false, "zero": false}, "axis": {"values": [0.5, 0.75, 1], "format": ".2f", "labelFontSize": 5.8, "tickSize": 2, "labelPadding": 1, "titleFontSize": 6, "titlePadding": 2}},
                    "y": {"field": "manE", "type": "quantitative", "title": "manE", "scale": {"domain": [-5.05, 9.35], "range": [97, 12], "nice": false, "zero": false}, "axis": {"values": [-5, 0, 5], "format": "d", "labelFontSize": 5.8, "tickSize": 2, "labelPadding": 1, "titleFontSize": 6, "titlePadding": 2}}
                  }
                },
                {
                  "data": {"name": "rfit"},
                  "transform": [{"filter": "datum.method === 'manE'"}],
                  "mark": {"type": "area", "color": "#0000FF", "opacity": 0.5},
                  "encoding": {"x": {"field": "qpcr", "type": "quantitative", "title": "qPCR"}, "y": {"field": "lo", "type": "quantitative", "title": "manE"}, "y2": {"field": "hi"}}
                },
                {
                  "data": {"name": "rfit"},
                  "transform": [{"filter": "datum.method === 'manE'"}],
                  "mark": {"type": "line", "color": "#FF0000", "strokeWidth": 0.9},
                  "encoding": {"x": {"field": "qpcr", "type": "quantitative", "title": "qPCR"}, "y": {"field": "fit", "type": "quantitative", "title": "manE"}}
                },
                {
                  "data": {"values": [{"label": "ρ = 0.94 , p = 1.3e−06"}]},
                  "mark": {"type": "text", "align": "left", "baseline": "middle", "color": "#FF0000", "fontSize": 6},
                  "encoding": {"x": {"datum": 0.30}, "y": {"datum": 7.83}, "text": {"field": "label"}}
                }
              ]
            },
            {"width": 22, "height": 98, "data": {"values": []}, "mark": "point"},
            {
              "width": 96, "height": 98,
              "title": {"text": "RISK6", "fontSize": 5.5, "offset": -9},
              "layer": [
                {
                  "data": {"name": "risk"},
                  "mark": {"type": "circle", "size": 16, "color": "#000", "opacity": 1},
                  "encoding": {
                    "x": {"field": "qpcr", "type": "quantitative", "title": "qPCR", "scale": {"domain": [0.256, 1.192], "nice": false, "zero": false}, "axis": {"values": [0.5, 0.75, 1], "format": ".2f", "labelFontSize": 5.8, "tickSize": 2, "labelPadding": 1, "titleFontSize": 6, "titlePadding": 2}},
                    "y": {"field": "autoD", "type": "quantitative", "title": "autoD", "scale": {"domain": [-6.5, 8.7], "range": [97, 12], "nice": false, "zero": false}, "axis": {"values": [-5, 0, 5], "format": "d", "labelFontSize": 5.8, "tickSize": 2, "labelPadding": 1, "titleFontSize": 6, "titlePadding": 2}}
                  }
                },
                {
                  "data": {"name": "rfit"},
                  "transform": [{"filter": "datum.method === 'autoD'"}],
                  "mark": {"type": "area", "color": "#0000FF", "opacity": 0.5},
                  "encoding": {"x": {"field": "qpcr", "type": "quantitative", "title": "qPCR"}, "y": {"field": "lo", "type": "quantitative", "title": "autoD"}, "y2": {"field": "hi"}}
                },
                {
                  "data": {"name": "rfit"},
                  "transform": [{"filter": "datum.method === 'autoD'"}],
                  "mark": {"type": "line", "color": "#FF0000", "strokeWidth": 0.9},
                  "encoding": {"x": {"field": "qpcr", "type": "quantitative", "title": "qPCR"}, "y": {"field": "fit", "type": "quantitative", "title": "autoD"}}
                },
                {
                  "data": {"values": [{"label": "ρ = 0.92 , p = 1.8e−06"}]},
                  "mark": {"type": "text", "align": "left", "baseline": "middle", "color": "#FF0000", "fontSize": 6},
                  "encoding": {"x": {"datum": 0.30}, "y": {"datum": 7.7}, "text": {"field": "label"}}
                }
              ]
            }
          ]
        }
      ]
    }
  ]
}
